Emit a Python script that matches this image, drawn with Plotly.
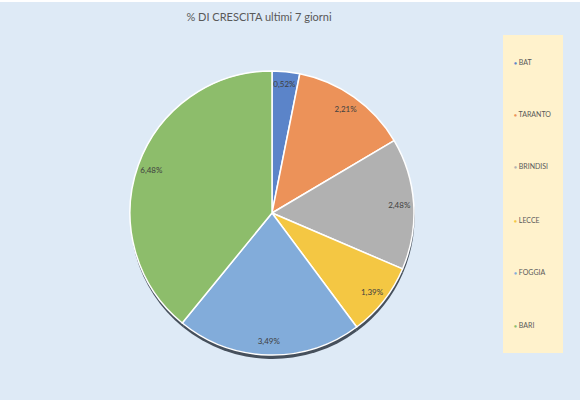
import plotly.graph_objects as go

W, H = 585, 404

province = ['BAT', 'TARANTO', 'BRINDISI', 'LECCE', 'FOGGIA', 'BARI']
crescita = [0.52, 2.21, 2.48, 1.39, 3.49, 6.48]
colori = ['#5B84C9', '#EC9259', '#B1B1B1', '#F4C743', '#82ACDA', '#8DBD6B']

etichette = [f"{v:.2f}%".replace('.', ',') for v in crescita]


def px_x(v):
    return v / W


def px_y(v):
    return 1 - v / H


dominio = dict(x=[px_x(130), px_x(414)], y=[px_y(355), px_y(71)])

fig = go.Figure()

# ombra sotto la torta
fig.add_trace(go.Pie(
    values=crescita,
    labels=province,
    sort=False,
    direction='clockwise',
    rotation=0,
    marker=dict(colors=['#46505C'] * len(crescita), line=dict(width=0)),
    textinfo='none',
    hoverinfo='skip',
    showlegend=False,
    domain=dict(x=[px_x(130.5), px_x(414.5)], y=[px_y(359), px_y(75)]),
))

# spicchi
fig.add_trace(go.Pie(
    values=crescita,
    labels=province,
    sort=False,
    direction='clockwise',
    rotation=0,
    marker=dict(colors=colori, line=dict(color='white', width=1.5)),
    textinfo='none',
    showlegend=False,
    domain=dominio,
))

# etichette vicino al bordo (anello trasparente)
fig.add_trace(go.Pie(
    values=crescita,
    labels=province,
    text=etichette,
    sort=False,
    direction='clockwise',
    rotation=0,
    hole=0.8,
    marker=dict(colors=['rgba(0,0,0,0)'] * len(crescita), line=dict(width=0)),
    textinfo='text',
    textposition='inside',
    insidetextorientation='horizontal',
    textfont=dict(family='Lato', size=8, color='#404040'),
    hoverinfo='skip',
    showlegend=False,
    domain=dominio,
))

# area del grafico e riquadro legenda
fig.add_shape(type='rect', xref='paper', yref='paper', layer='below',
              x0=0, x1=px_x(580), y0=px_y(400), y1=px_y(2),
              fillcolor='#DEEAF6', line=dict(width=0))
fig.add_shape(type='rect', xref='paper', yref='paper', layer='below',
              x0=px_x(503), x1=px_x(563), y0=px_y(353), y1=px_y(35),
              fillcolor='#FFF2CC', line=dict(width=0))

# legenda disegnata a mano
legenda_y = [62, 114, 166, 220, 272, 325]
for nome, col, yy in zip(province, colori, legenda_y):
    fig.add_annotation(
        xref='paper', yref='paper', x=px_x(512), y=px_y(yy),
        xanchor='left', yanchor='middle', showarrow=False,
        text=f"<span style='color:{col};font-size:5px'>●</span> {nome}",
        font=dict(family='Lato', size=7, color='#595959'),
    )

fig.update_layout(
    width=W, height=H,
    margin=dict(l=0, r=0, t=0, b=0),
    paper_bgcolor='white',
    title=dict(text='% DI CRESCITA ultimi 7 giorni', x=px_x(259), xanchor='center',
               y=px_y(17), yanchor='middle',
               font=dict(family='Lato', size=11, color='#595959')),
)

fig.write_html('out.html', config={'displayModeBar': False},
               post_script="document.body.style.margin='0px';")
